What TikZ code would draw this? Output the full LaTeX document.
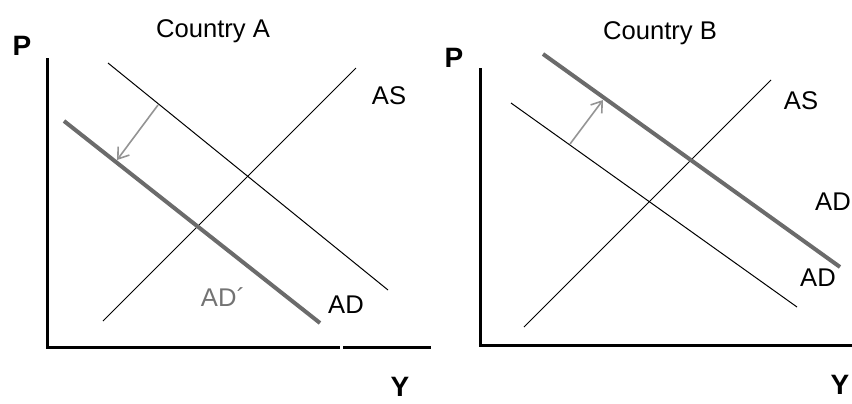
\documentclass[tikz,border=0pt]{standalone}
\usepackage{fontspec}
\setmainfont{Liberation Sans}
\usetikzlibrary{arrows.meta}
\tikzset{
  axis line/.style={
    line width=1.5pt,
    color=black
  },
  curve/.style={
    line width=0.5pt,
    color=black
  },
  shifted curve/.style={
    line width=2pt,
    color=black!58
  },
  shift arrow/.style={
    -{Straight Barb[length=5pt,width=7pt]},
    line width=0.8pt,
    color=black!42
  },
  curve label/.style={
    font=\fontsize{12.8}{15}\selectfont,
    inner sep=0pt
  },
  axis label/.style={
    font=\fontsize{14}{16}\selectfont\bfseries,
    inner sep=0pt
  }
}
\begin{document}
\begin{tikzpicture}[x=0.5pt, y=-0.5pt]
    \useasboundingbox (0,0) rectangle (852,403);

    % Country A
    \node[curve label] (titleA) at (213,31) {Country A};
    \node[axis label] (PA) at (22,46) {P};
    \node[axis label] (YA) at (400,387) {Y};
    \draw[axis line] (47,58) -- (47,347) -- (340,347);
    \draw[axis line] (343,347) -- (431,347);

    \draw[curve] (108,63) -- (388,290);
    \draw[curve] (103,321) -- (356,68);
    \draw[shifted curve] (64,121) -- (320,323);
    \draw[shift arrow] (158,105) -- (117,160);

    \node[curve label] (ASA) at (389,96) {AS};
    \node[curve label, text=black!55] (ADpA) at (223,297) {AD´};
    \node[curve label] (ADA) at (346,305) {AD};

    % Country B
    \node[curve label] (titleB) at (660,33) {Country B};
    \node[axis label] (PB) at (454,58) {P};
    \node[axis label] (YB) at (840,385) {Y};
    \draw[axis line] (480,68) -- (480,345) -- (852,345);

    \draw[curve] (511,103) -- (797,307);
    \draw[curve] (524,327) -- (771,80);
    \draw[shifted curve] (543,54) -- (840,267);
    \draw[shift arrow] (570,144) -- (603,100);

    \node[curve label] (ASB) at (801,101) {AS};
    \node[curve label] (ADpB) at (833,202) {AD};
    \node[curve label] (ADB) at (818,278) {AD};

\end{tikzpicture}
\end{document}
